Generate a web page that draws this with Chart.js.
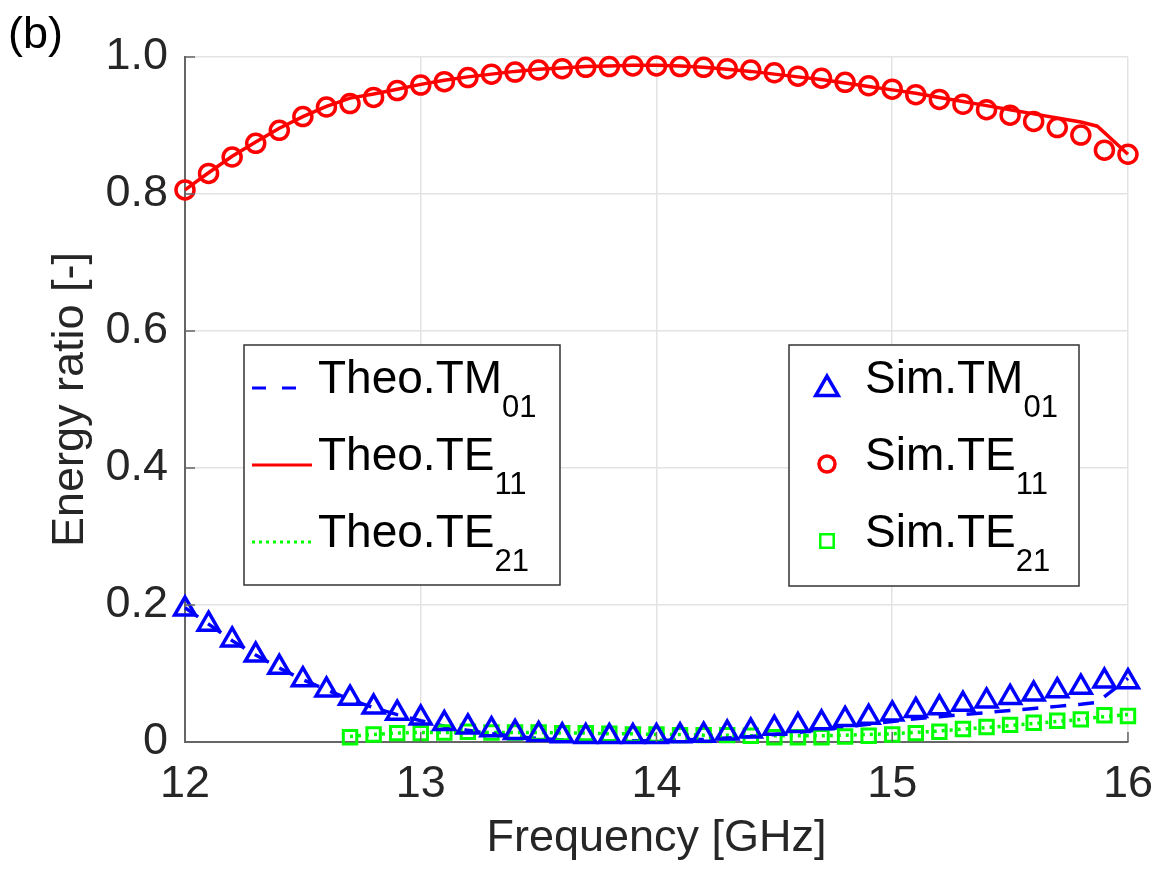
<!DOCTYPE html>
<html lang="en">

<head>
    <meta charset="UTF-8">
    <title>Energy ratio</title>
    <script src="https://cdn.jsdelivr.net/npm/chart.js"></script>
    <style>
        html, body { margin: 0; padding: 0; background: #fff; }
        #wrap { width: 1169px; height: 872px; }
    </style>
</head>

<body>
    <div id="wrap"><canvas id="myChartCanvas" width="1169" height="872"></canvas></div>

    <script>
        // frequencies [GHz]
        const freqSim = [12.0, 12.1, 12.2, 12.3, 12.4, 12.5, 12.6, 12.7, 12.8, 12.9,
            13.0, 13.1, 13.2, 13.3, 13.4, 13.5, 13.6, 13.7, 13.8, 13.9,
            14.0, 14.1, 14.2, 14.3, 14.4, 14.5, 14.6, 14.7, 14.8, 14.9,
            15.0, 15.1, 15.2, 15.3, 15.4, 15.5, 15.6, 15.7, 15.8, 15.9, 16.0];
        const freqTheo = [12.0, 12.1, 12.2, 12.3, 12.4, 12.5, 12.6, 12.7, 12.8, 12.9,
            13.0, 13.1, 13.2, 13.3, 13.4, 13.5, 13.6, 13.7, 13.8, 13.9,
            14.0, 14.1, 14.2, 14.3, 14.4, 14.5, 14.6, 14.7, 14.8, 14.9,
            15.0, 15.1, 15.2, 15.3, 15.4, 15.5, 15.6, 15.7, 15.8, 15.87, 16.0];
        const freqSimTE21 = [12.7, 12.8, 12.9, 13.0, 13.1, 13.2, 13.3, 13.4, 13.5, 13.6,
            13.7, 13.8, 13.9, 14.0, 14.1, 14.2, 14.3, 14.4, 14.5, 14.6,
            14.7, 14.8, 14.9, 15.0, 15.1, 15.2, 15.3, 15.4, 15.5, 15.6,
            15.7, 15.8, 15.9, 16.0];

        // teoria
        const theoTM01 = [0.196, 0.172, 0.148, 0.127, 0.108, 0.091, 0.076, 0.062, 0.050, 0.040,
            0.031, 0.023, 0.017, 0.012, 0.008, 0.005, 0.003, 0.002, 0.002, 0.002,
            0.002, 0.003, 0.004, 0.006, 0.008, 0.011, 0.014, 0.018, 0.022, 0.026,
            0.030, 0.034, 0.037, 0.040, 0.043, 0.046, 0.049, 0.052, 0.055, 0.058, 0.093];
        const theoTE11 = [0.806, 0.831, 0.855, 0.876, 0.896, 0.913, 0.928, 0.940, 0.946, 0.953,
            0.960, 0.966, 0.971, 0.975, 0.979, 0.982, 0.984, 0.986, 0.987, 0.988,
            0.988, 0.987, 0.985, 0.982, 0.979, 0.975, 0.971, 0.967, 0.962, 0.957,
            0.952, 0.947, 0.941, 0.935, 0.929, 0.923, 0.917, 0.911, 0.905, 0.899, 0.858];
        const theoTE21 = [null, null, null, null, null, null, null, 0.008, 0.011, 0.013,
            0.014, 0.014, 0.014, 0.014, 0.014, 0.014, 0.013, 0.013, 0.012, 0.012,
            0.011, 0.011, 0.010, 0.010, 0.009, 0.009, 0.009, 0.009, 0.010, 0.011,
            0.012, 0.014, 0.016, 0.019, 0.021, 0.024, 0.027, 0.030, 0.033, 0.036, 0.040];

        // simulação
        const simTM01 = [0.194, 0.172, 0.149, 0.127, 0.109, 0.091, 0.076, 0.064, 0.051, 0.042,
            0.035, 0.027, 0.022, 0.018, 0.014, 0.011, 0.009, 0.008, 0.008, 0.008,
            0.008, 0.009, 0.010, 0.013, 0.016, 0.020, 0.024, 0.028, 0.033, 0.036,
            0.041, 0.046, 0.050, 0.055, 0.060, 0.065, 0.070, 0.075, 0.080, 0.089, 0.088];
        const simTE11 = [0.806, 0.830, 0.854, 0.874, 0.893, 0.913, 0.927, 0.932, 0.941, 0.951,
            0.959, 0.964, 0.970, 0.975, 0.978, 0.981, 0.983, 0.985, 0.986, 0.987,
            0.987, 0.986, 0.985, 0.983, 0.981, 0.977, 0.972, 0.969, 0.963, 0.958,
            0.953, 0.945, 0.938, 0.931, 0.923, 0.915, 0.906, 0.897, 0.886, 0.864, 0.858];
        const simTE21 = [0.007, 0.011, 0.013, 0.013, 0.014, 0.015, 0.014, 0.014, 0.014, 0.013,
            0.013, 0.012, 0.011, 0.011, 0.010, 0.010, 0.010, 0.009, 0.007, 0.007,
            0.007, 0.008, 0.009, 0.011, 0.013, 0.015, 0.019, 0.022, 0.025, 0.028,
            0.031, 0.033, 0.039, 0.038];

        const xTicks = [12, 13, 14, 15, 16];
        const yTicks = [0, 0.2, 0.4, 0.6, 0.8, 1.0];

        const FONT = "'Liberation Sans', Arial, Helvetica, sans-serif";
        const AZUL = '#0000ff', VERMELHO = '#ff0000', VERDE = '#00ff00';

        function pares(xs, ys) {
            const out = [];
            for (let i = 0; i < xs.length; i++) {
                out.push({ x: xs[i], y: ys[i] });
            }
            return out;
        }

        // ticks para dentro, estilo matlab
        const ticksDentro = {
            id: 'ticksDentro',
            afterDatasetsDraw(chart) {
                const ctx = chart.ctx;
                const xs = chart.scales.x, ys = chart.scales.y;
                const a = chart.chartArea;
                ctx.save();
                ctx.strokeStyle = '#666';
                ctx.lineWidth = 1.5;
                ctx.beginPath();
                xTicks.forEach(v => {
                    const px = xs.getPixelForValue(v);
                    ctx.moveTo(px, a.bottom);
                    ctx.lineTo(px, a.bottom - 10);
                });
                yTicks.forEach(v => {
                    const py = ys.getPixelForValue(v);
                    ctx.moveTo(a.left, py);
                    ctx.lineTo(a.left + 10, py);
                });
                ctx.stroke();
                ctx.restore();
            }
        };

        // legendas (duas caixas com subscrito)
        function textoSub(ctx, x, y, txt, sub) {
            ctx.font = '46px ' + FONT;
            ctx.fillText(txt, x, y);
            const w = ctx.measureText(txt).width;
            ctx.font = '31px ' + FONT;
            ctx.fillText(sub, x + w, y + 24);
        }

        const legendas = {
            id: 'legendas',
            afterDraw(chart) {
                const ctx = chart.ctx;
                const a = chart.chartArea;
                ctx.save();
                ctx.textBaseline = 'alphabetic';
                ctx.fillStyle = '#000';
                ctx.font = '45px ' + FONT;
                ctx.fillText('(b)', 8, 48);

                // caixa esquerda
                const bx = a.left + 59, by = 345;
                ctx.fillStyle = '#fff';
                ctx.fillRect(bx, by, 316, 240);
                ctx.strokeStyle = '#333';
                ctx.lineWidth = 1.5;
                ctx.strokeRect(bx, by, 316, 240);

                const linhas = [
                    { cor: AZUL, dash: [14, 16], txt: 'Theo.TM', sub: '01' },
                    { cor: VERMELHO, dash: [], txt: 'Theo.TE', sub: '11' },
                    { cor: VERDE, dash: [3, 4], txt: 'Theo.TE', sub: '21' }
                ];
                linhas.forEach((l, i) => {
                    const yb = 393 + i * 77;
                    ctx.strokeStyle = l.cor;
                    ctx.lineWidth = 3;
                    ctx.setLineDash(l.dash);
                    ctx.beginPath();
                    ctx.moveTo(bx + 8, yb - 5);
                    ctx.lineTo(bx + 68, yb - 5);
                    ctx.stroke();
                    ctx.setLineDash([]);
                    ctx.fillStyle = '#000';
                    textoSub(ctx, bx + 74, yb, l.txt, l.sub);
                });

                // caixa direita
                const cx = 789;
                ctx.fillStyle = '#fff';
                ctx.fillRect(cx, by, 290, 241);
                ctx.strokeStyle = '#333';
                ctx.lineWidth = 1.5;
                ctx.strokeRect(cx, by, 290, 241);

                const marcas = [
                    { cor: AZUL, estilo: 'triangle', r: 13, dy: 2, txt: 'Sim.TM', sub: '01' },
                    { cor: VERMELHO, estilo: 'circle', r: 8, dy: 0, txt: 'Sim.TE', sub: '11' },
                    { cor: VERDE, estilo: 'rect', r: 9.5, dy: 0, txt: 'Sim.TE', sub: '21' }
                ];
                marcas.forEach((m, i) => {
                    const yb = 393 + i * 77;
                    const lw = m.estilo === 'rect' ? 2.5 : 3.5;
                    ctx.strokeStyle = m.cor;
                    ctx.fillStyle = 'rgba(0,0,0,0)';
                    ctx.lineWidth = lw;
                    Chart.helpers.drawPoint(ctx, { pointStyle: m.estilo, radius: m.r, borderWidth: lw, rotation: 0 }, cx + 38, yb - 6 + m.dy);
                    ctx.fillStyle = '#000';
                    textoSub(ctx, cx + 76, yb, m.txt, m.sub);
                });
                ctx.restore();
            }
        };

        function plotarGrafico() {
            const ctx = document.getElementById('myChartCanvas').getContext('2d');

            const config = {
                type: 'scatter',
                data: {
                    datasets: [
                        {
                            label: 'Sim.TM01', data: pares(freqSim, simTM01), showLine: false,
                            pointStyle: 'triangle', pointRadius: 12, borderColor: AZUL, backgroundColor: 'rgba(0,0,0,0)',
                            pointBorderWidth: 3.5, clip: false
                        },
                        {
                            label: 'Sim.TE11', data: pares(freqSim, simTE11), showLine: false,
                            pointStyle: 'circle', pointRadius: 9, borderColor: VERMELHO, backgroundColor: 'rgba(0,0,0,0)',
                            pointBorderWidth: 3.5, clip: false
                        },
                        {
                            label: 'Sim.TE21', data: pares(freqSimTE21, simTE21), showLine: false,
                            pointStyle: 'rect', pointRadius: 9.5, borderColor: VERDE, backgroundColor: 'rgba(0,0,0,0)',
                            pointBorderWidth: 3, clip: false
                        },
                        {
                            label: 'Theo.TM01', data: pares(freqTheo, theoTM01), showLine: true, pointRadius: 0,
                            borderColor: AZUL, borderWidth: 3.5, borderDash: [16, 12], tension: 0, clip: false
                        },
                        {
                            label: 'Theo.TE11', data: pares(freqTheo, theoTE11), showLine: true, pointRadius: 0,
                            borderColor: VERMELHO, borderWidth: 3.5, tension: 0, clip: false
                        },
                        {
                            label: 'Theo.TE21', data: pares(freqTheo, theoTE21), showLine: true, pointRadius: 0,
                            borderColor: VERDE, borderWidth: 3.5, borderDash: [3, 5], tension: 0, clip: false
                        }
                    ]
                },
                options: {
                    responsive: false,
                    animation: false,
                    layout: { padding: { top: 57, right: 35, bottom: 0, left: 0 } },
                    plugins: {
                        legend: { display: false },
                        tooltip: { enabled: false }
                    },
                    scales: {
                        x: {
                            type: 'linear', min: 12, max: 16,
                            afterFit: function (scale) { scale.height = 130; },
                            afterBuildTicks: function (scale) { scale.ticks = xTicks.map(v => ({ value: v })); },
                            grid: { color: '#e3e3e3', lineWidth: 1.5, drawTicks: false },
                            border: { color: '#666', width: 2 },
                            ticks: { color: '#262626', padding: 16, font: { size: 45, family: FONT } },
                            title: {
                                display: true, text: 'Frequency [GHz]', color: '#262626',
                                font: { size: 45, family: FONT }, padding: { top: 0, bottom: 6 }
                            }
                        },
                        y: {
                            type: 'linear', min: 0, max: 1,
                            afterFit: function (scale) { scale.width = 185; },
                            afterBuildTicks: function (scale) { scale.ticks = yTicks.map(v => ({ value: v })); },
                            grid: { color: '#e3e3e3', lineWidth: 1.5, drawTicks: false },
                            border: { color: '#666', width: 2 },
                            ticks: {
                                color: '#262626', padding: 17, font: { size: 45, family: FONT },
                                callback: function (v) { return v === 0 ? '0' : v.toFixed(1); }
                            },
                            title: {
                                display: true, text: 'Energy ratio [-]', color: '#262626',
                                font: { size: 45, family: FONT }, padding: { top: 44, bottom: 0 }
                            }
                        }
                    }
                },
                plugins: [ticksDentro, legendas]
            };

            new Chart(ctx, config);
        }

        plotarGrafico();
    </script>
</body>

</html>
